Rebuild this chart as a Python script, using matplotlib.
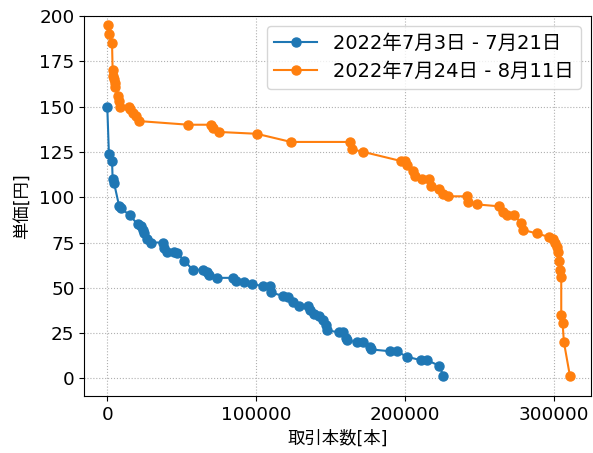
import matplotlib
matplotlib.use('Agg')
import matplotlib.pyplot as plt

# 2022年7月3日 - 7月21日 (取引本数は千本単位)
blue_volume = [0, 1.1, 3.2, 3.6, 4.5, 8, 9, 15.2, 20.4, 22.4, 23.8, 24.8, 26.4,
               29.3, 37.2, 38, 40.3, 44.8, 47, 51.7, 57.3, 64.4, 66.7, 68, 73.4,
               84.6, 86.4, 91.8, 97.1, 104.7, 109.2, 109.7, 118, 121.5, 124.9,
               128.5, 134.9, 136.1, 138.8, 142.3, 144.6, 146.8, 147.7, 155.3,
               158.4, 160.2, 161.1, 167.8, 171.4, 176.3, 177.2, 189.8, 194.3,
               201, 210.8, 214.8, 222.9, 225.5]
blue_price = [150, 124, 120, 110, 108, 95, 94, 90, 85, 84, 82, 80, 77, 75, 75,
              72, 70, 70, 69, 65, 60, 60, 59, 57, 55.5, 55.5, 54, 53, 52, 51,
              51, 47.5, 45.5, 45, 42, 40, 40, 37.5, 35.5, 34.5, 32, 29.5, 26.5,
              25.5, 25.5, 22.5, 21, 20, 20, 17.5, 16, 15, 15, 12, 10, 10, 7, 1.5]

# 2022年7月24日 - 8月11日
orange_volume = [0.5, 1.1, 3.2, 3.6, 4, 4.5, 5, 5, 7.2, 7.7, 8.5, 14.8, 15.2,
                 17.5, 19.3, 21.5, 54.4, 69.4, 70.8, 75.2, 100.3, 123.3, 163,
                 164, 171.9, 197, 199.8, 201.4, 205.4, 206.6, 211, 216.2, 217.1,
                 222.9, 225.2, 228.9, 241.2, 242.4, 248.4, 262.7, 265.8, 268.1,
                 273.2, 277.5, 278.8, 288.3, 296.8, 299, 300.6, 302, 302.7,
                 303.4, 303.9, 304.7, 304.7, 305.6, 306.5, 310.5]
orange_price = [195, 190, 185, 170, 167, 165, 163, 161, 156, 153, 150, 150,
                148.5, 146.5, 145, 142, 140, 140, 138, 136, 135, 130.5, 130.5,
                126.5, 125, 120, 120, 118, 114.5, 111.5, 110, 110, 106, 104.5,
                101.5, 100.5, 100.5, 97.5, 96, 95, 92, 90, 90, 86, 82, 80, 78,
                77, 75, 72.5, 70, 65, 60, 56, 35, 30.5, 20, 1.5]

labels = ['2022年7月3日 - 7月21日', '2022年7月24日 - 8月11日']

# digits from DejaVu (wide), kanji fall back to Noto CJK
plt.rcParams['font.family'] = ['DejaVu Sans', 'Noto Sans CJK JP']

fig = plt.figure(figsize=(5.93, 4.53), dpi=100)
ax = fig.add_axes([0.1422, 0.1258, 0.8545, 0.8389])

ax.plot([v * 1000 for v in blue_volume], blue_price, marker='o',
        markersize=6.5, color='tab:blue', label=labels[0])
ax.plot([v * 1000 for v in orange_volume], orange_price, marker='o',
        markersize=6.5, color='tab:orange', label=labels[1])

ax.set_xlim(-15400, 324700)
ax.set_ylim(-9.7, 200)
ax.set_xticks([0, 100000, 200000, 300000])
ax.set_yticks([0, 25, 50, 75, 100, 125, 150, 175, 200])
ax.tick_params(labelsize=13.2)
ax.grid(True, linestyle=':', color='#b0b0b0', linewidth=0.8)

ax.set_xlabel('取引本数[本]', fontsize=12.5)
ax.set_ylabel('単価[円]', fontsize=12.5, labelpad=6)
ax.legend(loc='upper right', fontsize=14, handlelength=2.2,
          labelspacing=0.5, borderpad=0.4, borderaxespad=0.5)

fig.savefig('out.png', dpi=100)
